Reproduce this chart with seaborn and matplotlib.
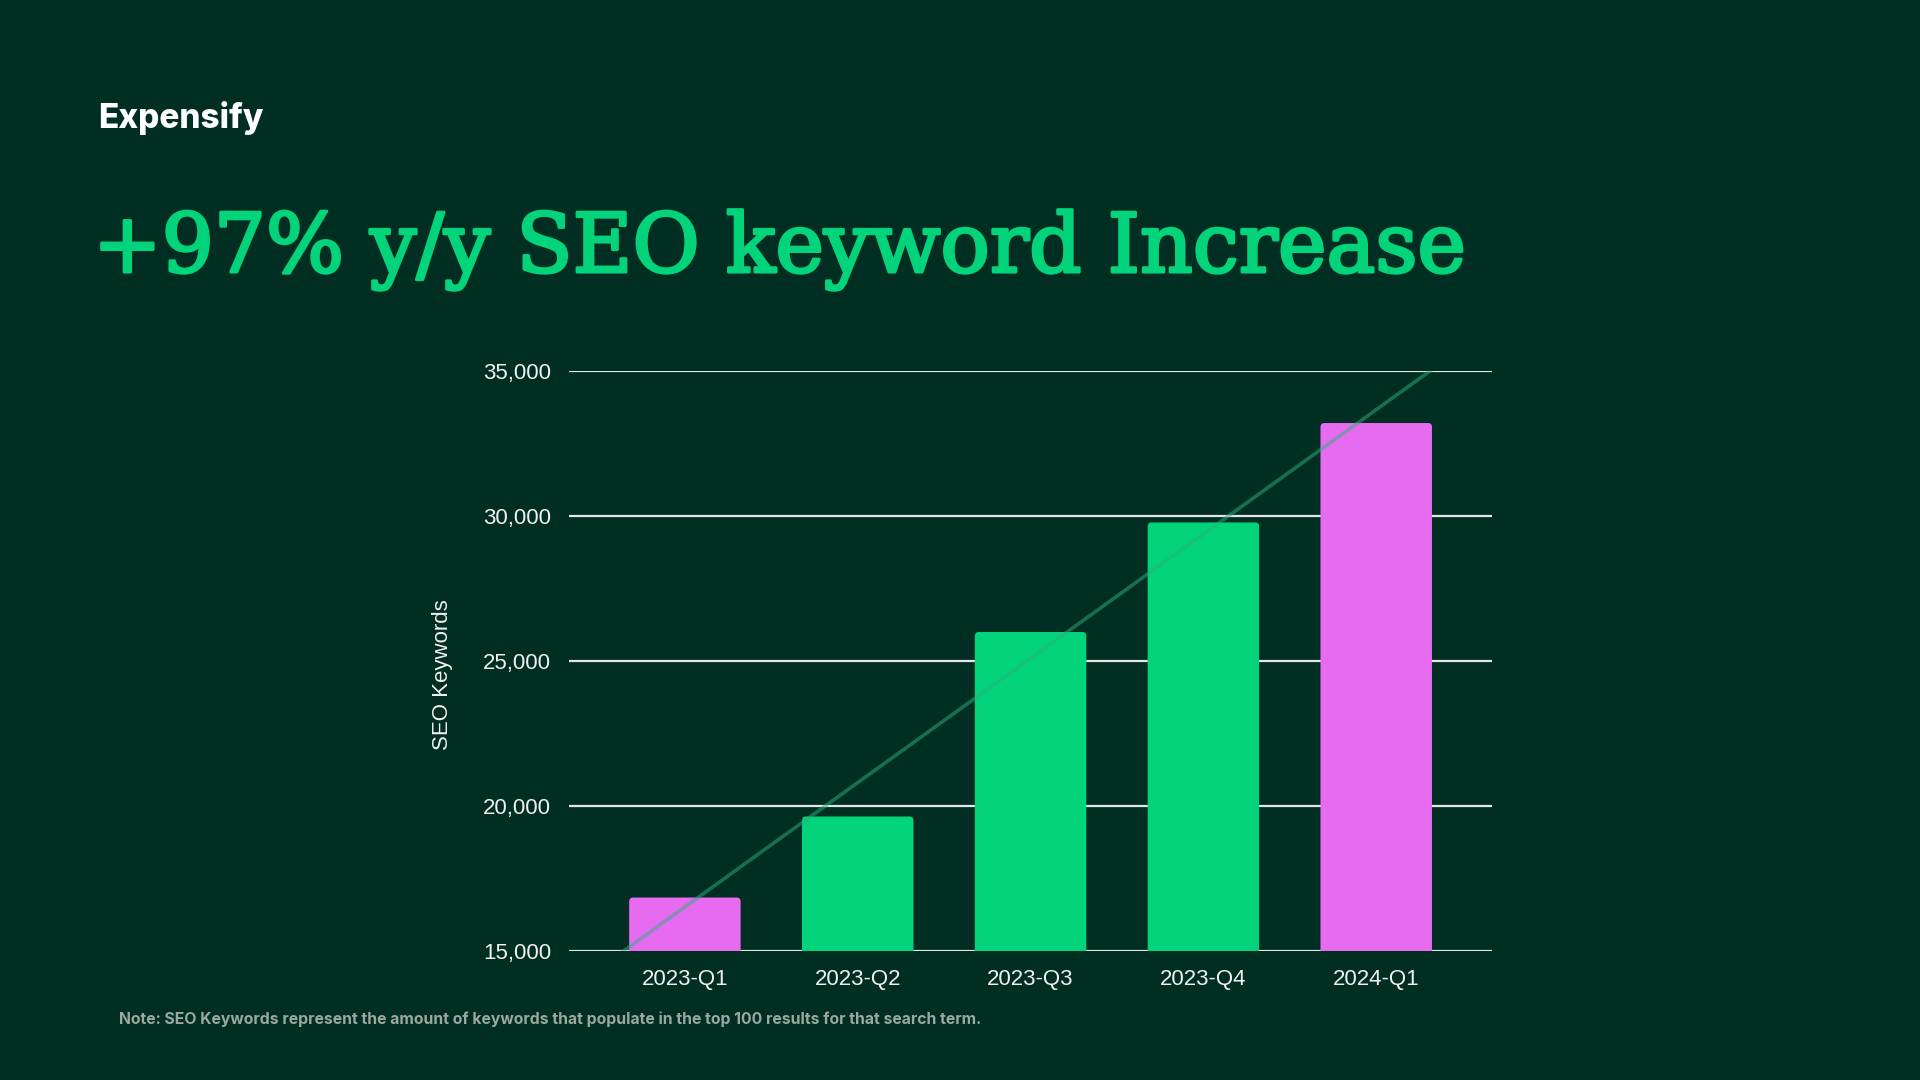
import matplotlib
matplotlib.use("Agg")
import matplotlib.pyplot as plt
from matplotlib.patches import FancyBboxPatch
import matplotlib.patheffects as pe
import seaborn as sns
import numpy as np
import pandas as pd

categories = ["2023-Q1", "2023-Q2", "2023-Q3", "2023-Q4", "2024-Q1"]
keywords = [16835, 19630, 25995, 29775, 33205]
bar_colors = ["#e76bf0", "#03d47c", "#03d47c", "#03d47c", "#e76bf0"]
y_ticks = [15000, 20000, 25000, 30000, 35000]

title = "+97% y/y SEO keyword Increase"
brand = "Expensify"
note = "Note: SEO Keywords represent the amount of keywords that populate in the top 100 results for that search term."
y_label = "SEO Keywords"

BG = "#002e22"
GREEN = "#03d47c"
sns.set_theme(style="white")
plt.rcParams["font.family"] = ["Liberation Sans", "DejaVu Sans"]

fig = plt.figure(figsize=(19.2, 10.8), dpi=100, facecolor=BG)
ax = fig.add_axes([0.2964, 0.1197, 0.4807, 0.5368])
ax.set_facecolor(BG)

df = pd.DataFrame({"quarter": categories, "value": keywords})
sns.barplot(data=df, x="quarter", y="value", hue="quarter", palette=bar_colors,
            legend=False, width=0.645, saturation=1, ax=ax, zorder=3,
            edgecolor="none", linewidth=0)

ax.set_xlim(-0.67, 4.67)
ax.set_ylim(15000, 35000)

# rounded top corners: redraw each seaborn bar with a rounded box
fig.canvas.draw()
bb = ax.get_window_extent()
y_per_px = (35000 - 15000) / bb.height
x_per_px = (4.67 + 0.67) / bb.width
aspect = y_per_px / x_per_px
for p in list(ax.patches):
    x0, y0 = p.get_x(), p.get_y()
    w, h = p.get_width(), p.get_height()
    fb = FancyBboxPatch((x0, y0), w, h,
                        boxstyle=f"round,pad=0,rounding_size={4 * x_per_px}",
                        mutation_aspect=aspect, facecolor=p.get_facecolor(),
                        edgecolor="none", linewidth=0, zorder=3)
    ax.add_patch(fb)
    p.set_visible(False)

ax.set_yticks(y_ticks)
ax.set_yticklabels([f"{v:,}" for v in y_ticks])
for v in y_ticks:
    ax.axhline(v, color="#e6e6e6", lw=1.6, zorder=1)

# linear trend line
xs = np.arange(len(keywords))
slope, intercept = np.polyfit(xs, keywords, 1)
xl = np.array([-0.67, 4.67])
ax.plot(xl, slope * xl + intercept, color="#2bb07e", alpha=0.5, lw=2.6, zorder=4)

for s in ax.spines.values():
    s.set_visible(False)
ax.tick_params(axis="both", length=0, colors="#f0f0f0", labelsize=16)
ax.tick_params(axis="y", pad=13)
ax.tick_params(axis="x", pad=13)
ax.set_xlabel("")
ax.set_ylabel(y_label, color="#f0f0f0", fontsize=16)
ax.yaxis.set_label_coords(-0.126, 0.477)

fig.canvas.draw()
r = fig.canvas.get_renderer()

# brand
fig.text(98 / 1920, 1 - 128 / 1080, brand, color="white", fontsize=24,
         fontweight="heavy", family=["Inter", "DejaVu Sans"], ha="left", va="baseline")

# title fitted to width
t = fig.text(93 / 1920, 1 - 272 / 1080, title, color=GREEN, fontsize=60,
             fontweight="normal", family=["DejaVu Serif"], ha="left", va="baseline",
             path_effects=[pe.withStroke(linewidth=2.2, foreground=GREEN)])
w = t.get_window_extent(r).width
t.set_fontsize(60 * 1374 / w)

n = fig.text(119 / 1920, 1 - 1024 / 1080, note, color="#9aa89f", fontsize=11,
             fontweight="bold", family=["Inter", "DejaVu Sans"], ha="left", va="baseline")
w = n.get_window_extent(r).width
n.set_fontsize(11 * 866 / w)

fig.savefig("out.png", dpi=100, facecolor=BG)
